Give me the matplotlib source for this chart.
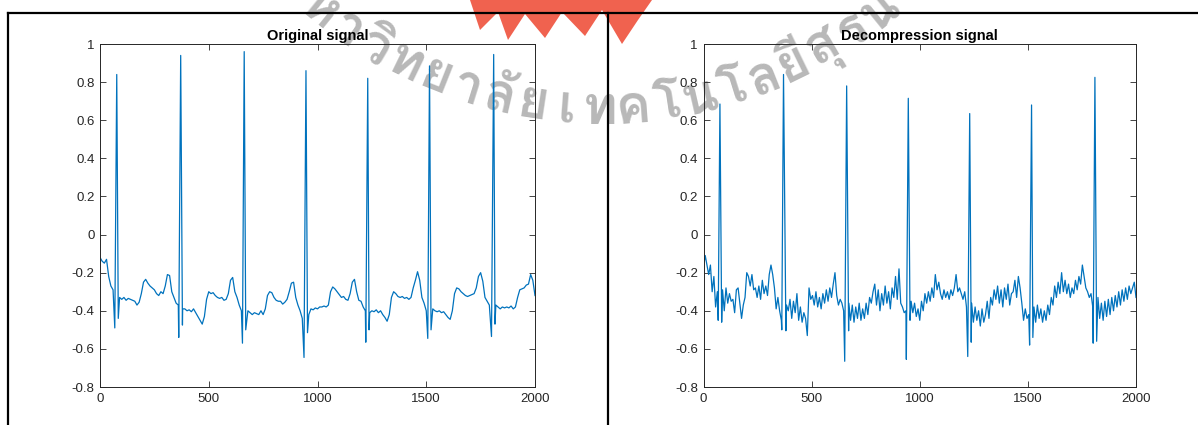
import numpy as np
import matplotlib
matplotlib.use('Agg')
import matplotlib.pyplot as plt
from matplotlib import font_manager, ft2font
from matplotlib.lines import Line2D
from matplotlib.patches import Polygon

plt.rcParams['font.family'] = ['Liberation Sans', 'DejaVu Sans']
plt.rcParams['axes.unicode_minus'] = False

# ---- data ----
# original signal: baseline every 10 samples, QRS spikes added separately
orig_step = 10
orig_base = [
    -0.12, -0.14, -0.15, -0.13, -0.22, -0.27, -0.29, -0.40, -0.40, -0.33,
    -0.34, -0.33, -0.345, -0.335, -0.34, -0.345, -0.35, -0.37, -0.355, -0.31,
    -0.25, -0.235, -0.255, -0.27, -0.28, -0.29, -0.31, -0.32, -0.30, -0.31,
    -0.27, -0.21, -0.215, -0.30, -0.33, -0.36, -0.37, -0.40, -0.39, -0.39,
    -0.40, -0.395, -0.405, -0.39, -0.41, -0.43, -0.45, -0.47, -0.43, -0.34,
    -0.30, -0.31, -0.305, -0.32, -0.33, -0.335, -0.33, -0.345, -0.34, -0.31,
    -0.24, -0.225, -0.30, -0.33, -0.37, -0.40, -0.40, -0.40, -0.40, -0.41,
    -0.42, -0.41, -0.415, -0.42, -0.40, -0.42, -0.39, -0.32, -0.30, -0.305,
    -0.33, -0.345, -0.35, -0.35, -0.365, -0.355, -0.34, -0.30, -0.255, -0.25,
    -0.33, -0.37, -0.40, -0.44, -0.42, -0.42, -0.42, -0.39, -0.395, -0.385,
    -0.39, -0.38, -0.38, -0.375, -0.38, -0.37, -0.30, -0.275, -0.285, -0.30,
    -0.315, -0.33, -0.325, -0.34, -0.345, -0.31, -0.25, -0.235, -0.30, -0.345,
    -0.35, -0.38, -0.40, -0.40, -0.41, -0.40, -0.405, -0.395, -0.41, -0.40,
    -0.42, -0.435, -0.455, -0.42, -0.33, -0.30, -0.31, -0.325, -0.33, -0.325,
    -0.335, -0.33, -0.34, -0.33, -0.28, -0.24, -0.195, -0.24, -0.33, -0.36,
    -0.40, -0.40, -0.40, -0.39, -0.40, -0.405, -0.40, -0.41, -0.405, -0.42,
    -0.435, -0.445, -0.40, -0.31, -0.28, -0.285, -0.30, -0.31, -0.32, -0.325,
    -0.32, -0.315, -0.31, -0.28, -0.22, -0.20, -0.245, -0.33, -0.35, -0.37,
    -0.37, -0.37, -0.37, -0.38, -0.39, -0.38, -0.385, -0.38, -0.385, -0.375,
    -0.39, -0.38, -0.33, -0.29, -0.285, -0.28, -0.265, -0.26, -0.21, -0.24,
    -0.32,
]
orig_q_x = [68, 362, 655, 938, 1222, 1507, 1800]
orig_q_y = [-0.49, -0.54, -0.57, -0.645, -0.565, -0.545, -0.535]
orig_r_x = [77, 371, 663, 947, 1231, 1515, 1810]
orig_r_y = [0.84, 0.94, 0.96, 0.86, 0.82, 0.885, 0.945]
orig_s_x = [84, 379, 670, 954, 1237, 1522, 1816]
orig_s_y = [-0.44, -0.475, -0.50, -0.515, -0.50, -0.50, -0.47]

# decompressed signal: baseline every 8 samples, QRS spikes added separately
dec_step = 8
dec_base = [
    -0.17, -0.11, -0.16, -0.21, -0.16, -0.30, -0.22, -0.38, -0.30, -0.40,
    -0.42, -0.29, -0.40, -0.28, -0.36, -0.31, -0.35, -0.34, -0.41, -0.29,
    -0.28, -0.36, -0.44, -0.37, -0.33, -0.20, -0.22, -0.27, -0.21, -0.29,
    -0.28, -0.33, -0.27, -0.34, -0.24, -0.31, -0.27, -0.32, -0.21, -0.16,
    -0.21, -0.28, -0.39, -0.33, -0.40, -0.45, -0.40, -0.40, -0.37, -0.40,
    -0.34, -0.44, -0.35, -0.41, -0.31, -0.45, -0.38, -0.46, -0.41, -0.44,
    -0.53, -0.28, -0.34, -0.32, -0.37, -0.30, -0.38, -0.33, -0.39, -0.31,
    -0.36, -0.29, -0.35, -0.28, -0.33, -0.26, -0.20, -0.32, -0.37, -0.34,
    -0.36, -0.40, -0.40, -0.40, -0.36, -0.45, -0.37, -0.46, -0.38, -0.44,
    -0.36, -0.45, -0.39, -0.44, -0.36, -0.42, -0.33, -0.36, -0.30, -0.26,
    -0.37, -0.29, -0.40, -0.31, -0.37, -0.27, -0.36, -0.30, -0.39, -0.28,
    -0.33, -0.22, -0.34, -0.18, -0.36, -0.38, -0.41, -0.40, -0.40, -0.40,
    -0.35, -0.41, -0.36, -0.43, -0.39, -0.45, -0.35, -0.40, -0.31, -0.36,
    -0.30, -0.35, -0.28, -0.33, -0.21, -0.29, -0.25, -0.31, -0.34, -0.29,
    -0.33, -0.30, -0.34, -0.29, -0.32, -0.28, -0.21, -0.30, -0.28, -0.31,
    -0.34, -0.30, -0.38, -0.40, -0.40, -0.36, -0.46, -0.38, -0.45, -0.40,
    -0.48, -0.39, -0.46, -0.42, -0.35, -0.44, -0.33, -0.37, -0.29, -0.34,
    -0.27, -0.36, -0.29, -0.38, -0.28, -0.34, -0.26, -0.37, -0.31, -0.30,
    -0.24, -0.33, -0.22, -0.28, -0.36, -0.45, -0.39, -0.44, -0.42, -0.40,
    -0.40, -0.38, -0.46, -0.37, -0.44, -0.39, -0.46, -0.40, -0.45, -0.37,
    -0.42, -0.33, -0.37, -0.27, -0.33, -0.25, -0.31, -0.20, -0.30, -0.24,
    -0.31, -0.26, -0.33, -0.28, -0.31, -0.24, -0.29, -0.22, -0.26, -0.16,
    -0.22, -0.28, -0.30, -0.33, -0.31, -0.38, -0.40, -0.40, -0.33, -0.44,
    -0.36, -0.45, -0.35, -0.43, -0.34, -0.42, -0.33, -0.40, -0.32, -0.38,
    -0.30, -0.37, -0.29, -0.35, -0.28, -0.34, -0.27, -0.31, -0.28, -0.25,
    -0.33,
]
dec_q_x = [68, 362, 653, 938, 1222, 1508, 1802]
dec_q_y = [-0.45, -0.50, -0.665, -0.655, -0.64, -0.58, -0.57]
dec_r_x = [76, 370, 662, 947, 1231, 1517, 1810]
dec_r_y = [0.685, 0.84, 0.78, 0.715, 0.635, 0.68, 0.825]
dec_s_x = [84, 381, 671, 955, 1238, 1523, 1818]
dec_s_y = [-0.46, -0.505, -0.505, -0.45, -0.565, -0.54, -0.56]

x_ticks = [0, 500, 1000, 1500, 2000]
y_ticks = [-0.8, -0.6, -0.4, -0.2, 0, 0.2, 0.4, 0.6, 0.8, 1]
y_labels = ['-0.8', '-0.6', '-0.4', '-0.2', '0', '0.2', '0.4', '0.6', '0.8', '1']
titles = ['Original signal', 'Decompression signal']

# visible part of the document watermark, one cluster per glyph
watermark = ['ห', 'า', 'วิ', 'ท', 'ย', 'า', 'ลั', 'ย', 'เ', 'ท', 'ค',
             'โ', 'น', 'โ', 'ล', 'ยี', 'สุ', 'ร', 'น']


def build(step, base, qx, qy, rx, ry, sx, sy):
    bx = np.arange(len(base)) * step
    by = np.array(base)
    keep = np.ones(len(bx), bool)
    for a, b in zip(qx, sx):
        keep &= ~((bx >= a) & (bx <= b))
    x = np.concatenate([bx[keep], qx, rx, sx])
    y = np.concatenate([by[keep], qy, ry, sy])
    order = np.argsort(x, kind='stable')
    return x[order], y[order]


def thai_font():
    for f in font_manager.fontManager.ttflist:
        try:
            if ft2font.FT2Font(f.fname).get_char_index(ord('ท')):
                return f.name
        except Exception:
            pass
    return None


signals = [build(orig_step, orig_base, orig_q_x, orig_q_y, orig_r_x, orig_r_y, orig_s_x, orig_s_y),
           build(dec_step, dec_base, dec_q_x, dec_q_y, dec_r_x, dec_r_y, dec_s_x, dec_s_y)]

W, H = 1198, 425
fig = plt.figure(figsize=(W / 100, H / 100), dpi=100)

lefts = [100 / W, 703.5 / W]
widths = [435 / W, 432.5 / W]
for i in range(2):
    ax = fig.add_axes([lefts[i], 1 - 387 / H, widths[i], 343 / H])
    ax.patch.set_alpha(0)
    x, y = signals[i]
    ax.plot(x, y, color='#0072BD', lw=0.9)
    ax.set_xlim(0, 2000)
    ax.set_ylim(-0.8, 1)
    ax.set_xticks(x_ticks)
    ax.set_yticks(y_ticks)
    ax.set_yticklabels(y_labels)
    ax.tick_params(direction='in', top=True, right=True, length=4, width=0.6,
                   labelsize=9.5, colors='#262626', pad=4)
    for sp in ax.spines.values():
        sp.set_color('#262626')
        sp.set_linewidth(0.7)
    ax.set_title(titles[i], fontsize=10.5, fontweight='bold', pad=3)

# page frame around the figure
for xs, ys in [([8, W], [13, 13]), ([8, 8], [13, H]), ([608, 608], [13, H])]:
    fig.add_artist(Line2D([v / W for v in xs], [1 - v / H for v in ys],
                          color='black', lw=1.6, transform=fig.transFigure))

# watermark of the source document (logo + arched university name)
logo = [(470, 0), (480, 30), (498, 12), (508, 40), (525, 14), (545, 38), (562, 12),
        (585, 36), (602, 10), (622, 44), (638, 20), (652, 0)]
fig.add_artist(Polygon([(px / W, 1 - py / H) for px, py in logo], closed=True,
                       facecolor='#ee4630', edgecolor='none', alpha=0.85,
                       transform=fig.transFigure, zorder=-1))
tf = thai_font()
if tf:
    cx, cy, rad = 600, -335, 445
    angs = np.linspace(-39, 39, len(watermark))
    for ch, a in zip(watermark, angs):
        t = np.deg2rad(a)
        px = cx + rad * np.sin(t)
        py = cy + rad * np.cos(t)
        fig.text(px / W, 1 - py / H, ch, fontsize=38, family=tf, fontweight='bold',
                 color='#b8b8b8', rotation=a, ha='center', va='center',
                 rotation_mode='anchor', zorder=-1)

fig.savefig('out.png', dpi=100)
